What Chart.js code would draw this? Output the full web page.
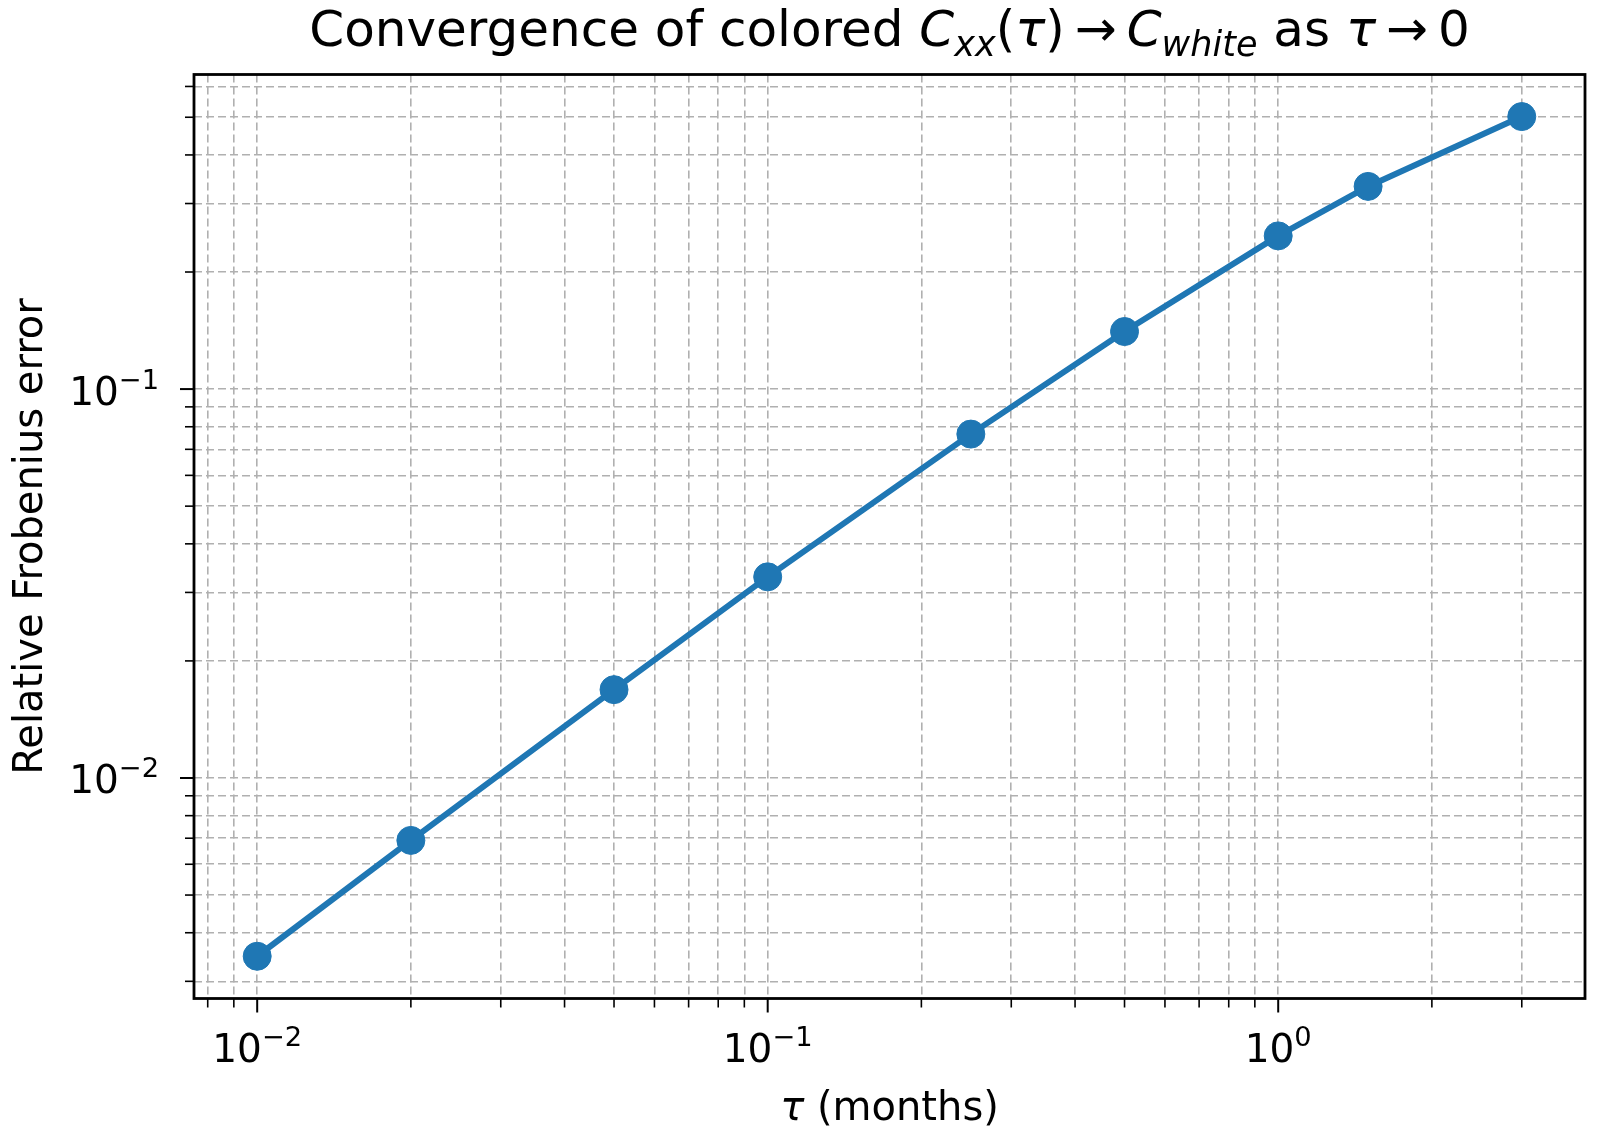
<!DOCTYPE html>
<html>
<head>
<meta charset="utf-8">
<title>Convergence of colored Cxx(tau)</title>
<script src="https://cdn.jsdelivr.net/npm/chart.js@4.4.1/dist/chart.umd.min.js"></script>
<style>
  html, body { margin: 0; padding: 0; background: #fff; }
  #wrap { width: 1600px; height: 1135px; }
</style>
</head>
<body>
<div id="wrap"><canvas id="myChart" width="1600" height="1135"></canvas></div>
<script>
// tau (months) and relative Frobenius error
const tauValues = [0.01, 0.02, 0.05, 0.1, 0.25, 0.5, 1.0, 1.5, 3.0];
const errorValues = [0.00348, 0.00691, 0.01687, 0.0329, 0.0766, 0.1406, 0.2477, 0.332, 0.502];

// axis limits (5% log margin like matplotlib)
const xLimits = [0.00752, 3.99];
const yLimits = [0.00271, 0.644];

// labelled decades: value and exponent text
const xMajorTicks = [0.01, 0.1, 1];
const xTickLabels = ['\u22122', '\u22121', '0'];
const yMajorTicks = [0.01, 0.1];
const yTickLabels = ['\u22122', '\u22121'];

const FONT = '"DejaVu Sans", sans-serif';
const blue = '#1f77b4';
const gridColor = '#b0b0b0';

// 1..9 x 10^n inside the limits, for grid lines and tick marks
function logTicks(lo, hi) {
  const out = [];
  for (let e = Math.floor(Math.log10(lo)); e <= Math.ceil(Math.log10(hi)); e++) {
    for (let m = 1; m < 10; m++) {
      const v = +(m * Math.pow(10, e)).toPrecision(6);
      if (v >= lo && v <= hi) out.push({ value: v, major: m === 1 });
    }
  }
  return out;
}
const xTicks = logTicks(xLimits[0], xLimits[1]);
const yTicks = logTicks(yLimits[0], yLimits[1]);

function font(size, italic) {
  return (italic ? 'italic ' : '') + size + 'px ' + FONT;
}

// draw a row of text pieces (regular / italic / sub / sup) centred on cx
function drawRich(ctx, parts, cx, baseline, size, align) {
  let total = 0;
  parts.forEach(p => {
    ctx.font = font(size * (p.s || 1), p.it);
    p.w = ctx.measureText(p.t).width + (p.pad || 0) * size * 2;
    total += p.w;
  });
  let x = align === 'right' ? cx - total : cx - total / 2;
  ctx.textAlign = 'left';
  ctx.textBaseline = 'alphabetic';
  parts.forEach(p => {
    ctx.font = font(size * (p.s || 1), p.it);
    ctx.fillText(p.t, x + (p.pad || 0) * size, baseline + (p.dy || 0) * size);
    x += p.w;
  });
}

function powerLabel(exp) {
  return [{ t: '10' }, { t: exp, s: 0.7, dy: -0.41 }];
}

const decorations = {
  id: 'decorations',
  afterDraw(chart) {
    const { ctx, chartArea: a, scales: { x, y } } = chart;
    ctx.save();
    ctx.fillStyle = '#000';
    ctx.strokeStyle = '#000';

    // tick marks
    xTicks.forEach(t => {
      const px = x.getPixelForValue(t.value);
      ctx.lineWidth = t.major ? 2 : 1.6;
      ctx.beginPath();
      ctx.moveTo(px, a.bottom);
      ctx.lineTo(px, a.bottom + (t.major ? 14 : 9));
      ctx.stroke();
    });
    yTicks.forEach(t => {
      const py = y.getPixelForValue(t.value);
      ctx.lineWidth = t.major ? 2 : 1.6;
      ctx.beginPath();
      ctx.moveTo(a.left, py);
      ctx.lineTo(a.left - (t.major ? 14 : 9), py);
      ctx.stroke();
    });

    // frame
    ctx.lineWidth = 2.8;
    ctx.strokeRect(a.left, a.top, a.right - a.left, a.bottom - a.top);

    // tick labels
    xMajorTicks.forEach((v, i) => {
      drawRich(ctx, powerLabel(xTickLabels[i]), x.getPixelForValue(v), a.bottom + 63.5, 39);
    });
    yMajorTicks.forEach((v, i) => {
      drawRich(ctx, powerLabel(yTickLabels[i]), a.left - 35, y.getPixelForValue(v) + 15.5, 39, 'right');
    });

    // axis labels
    const midX = (a.left + a.right) / 2;
    const midY = (a.top + a.bottom) / 2;
    drawRich(ctx, [{ t: '\u03c4', it: true }, { t: ' (months)' }], midX, 1120, 40);
    ctx.save();
    ctx.translate(42, midY);
    ctx.rotate(-Math.PI / 2);
    drawRich(ctx, [{ t: 'Relative Frobenius error' }], 0, 0, 40);
    ctx.restore();

    // title with math pieces
    drawRich(ctx, [
      { t: 'Convergence of colored ' },
      { t: 'C', it: true },
      { t: 'xx', it: true, s: 0.7, dy: 0.2 },
      { t: '(' },
      { t: '\u03c4', it: true },
      { t: ')' },
      { t: '\u2192', pad: 0.2 },
      { t: 'C', it: true },
      { t: 'white', it: true, s: 0.7, dy: 0.2 },
      { t: ' as ' },
      { t: '\u03c4', it: true },
      { t: '\u2192', pad: 0.2 },
      { t: '0' }
    ], midX, 46, 50);

    ctx.restore();
  }
};

const points = tauValues.map((t, i) => ({ x: t, y: errorValues[i] }));

const gridOpts = { color: gridColor, lineWidth: 1.6, drawTicks: false };
const borderOpts = { display: false, dash: [8, 4] };

new Chart(document.getElementById('myChart').getContext('2d'), {
  type: 'line',
  data: {
    datasets: [{
      label: 'Relative Frobenius error',
      data: points,
      borderColor: blue,
      backgroundColor: blue,
      borderWidth: 6,
      pointRadius: 14,
      pointBorderWidth: 1,
      pointBackgroundColor: blue,
      pointBorderColor: blue,
      tension: 0
    }]
  },
  options: {
    responsive: false,
    animation: false,
    layout: { padding: { left: 0, right: 9, top: 74.5, bottom: 0 } },
    plugins: {
      legend: { display: false },
      title: { display: false },
      tooltip: { enabled: false }
    },
    scales: {
      x: {
        type: 'logarithmic',
        min: xLimits[0],
        max: xLimits[1],
        afterBuildTicks: scale => { scale.ticks = xTicks.map(t => ({ value: t.value, major: t.major })); },
        afterFit: scale => { scale.height = 136.5; },
        ticks: { display: false },
        grid: gridOpts,
        border: borderOpts
      },
      y: {
        type: 'logarithmic',
        min: yLimits[0],
        max: yLimits[1],
        afterBuildTicks: scale => { scale.ticks = yTicks.map(t => ({ value: t.value, major: t.major })); },
        afterFit: scale => { scale.width = 194; },
        ticks: { display: false },
        grid: gridOpts,
        border: borderOpts
      }
    }
  },
  plugins: [decorations]
});
</script>
</body>
</html>
